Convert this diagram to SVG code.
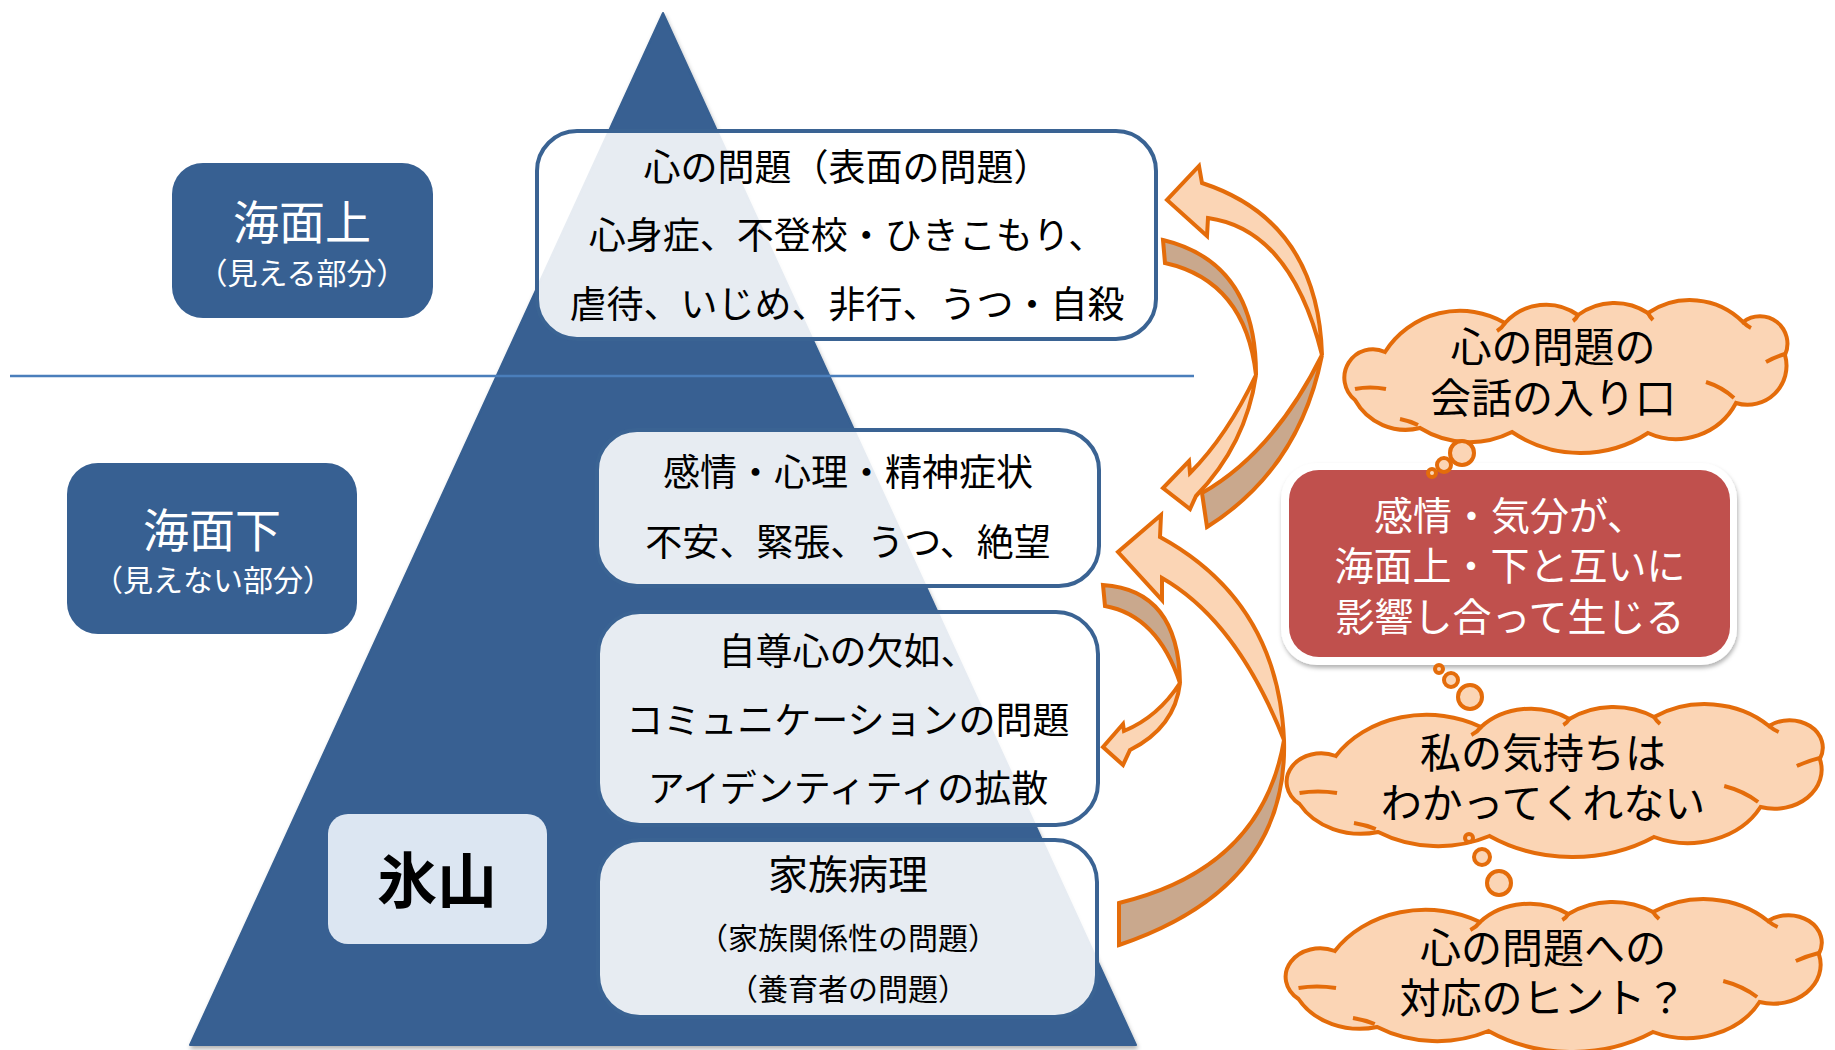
<svg xmlns="http://www.w3.org/2000/svg" width="1835" height="1050" viewBox="0 0 1835 1050">
<defs>
<style>
.jp{font-family:"Noto Sans CJK JP","Noto Sans CJK SC",sans-serif;text-anchor:middle}
.jt{font-family:"Liberation Sans","Noto Sans CJK JP","Noto Sans CJK SC",sans-serif;text-anchor:middle}
.box{fill:#fff;fill-opacity:0.88;stroke:#3A6393;stroke-width:4}
.bt{font-size:37px;fill:#000}
.st{font-size:30px;fill:#000}
.lbl{fill:#376092}
.lt{font-size:46px;fill:#fff}
.ls{font-size:30px;fill:#fff}
.ct{font-size:41px;fill:#000}
.rt{font-size:39px;fill:#fff}
.af{fill:#FBD5B5;stroke:#E46C0A;stroke-width:4;stroke-linejoin:miter}
.ab{fill:#C9A88D;stroke:#E46C0A;stroke-width:4;stroke-linejoin:miter}
.cloud{fill:#FBD5B5;stroke:#E46C0A;stroke-width:4}
.cin{fill:none;stroke:#E46C0A;stroke-width:4}
.bub{fill:#FBD5B5;stroke:#E46C0A;stroke-width:4}
</style>
<filter id="sh" x="-10%" y="-10%" width="125%" height="125%">
<feDropShadow dx="1" dy="3" stdDeviation="2" flood-color="#000" flood-opacity="0.3"/>
</filter>
<g id="cloudShape">
<path class="cloud" vector-effect="non-scaling-stroke" d="M1355,400 A28.5,28.5 0 0 1 1385,352 A89,89 0 0 1 1505,323 A55,55 0 0 1 1578,315 A61,61 0 0 1 1648,313 A75,75 0 0 1 1743,322 A27.5,27.5 0 0 1 1785,355 A39,39 0 0 1 1736,403 A68,68 0 0 1 1648,433 A123,123 0 0 1 1512,432 A94,94 0 0 1 1420,428 A58,58 0 0 1 1355,400 Z"/>
<path class="cin" vector-effect="non-scaling-stroke" d="M1355,389 Q1370,386 1386,389 M1400,419 Q1410,421 1418,425 M1706,382 Q1722,387 1734,398 M1766,362 Q1775,357 1785,354 M1505,323 q-3,5 -8,8 M1578,315 q-2,4 -5,6 M1648,313 q2,4 5,7 M1743,322 q4,4 8,6"/>
</g>
</defs>

<rect width="1835" height="1050" fill="#fff"/>

<g id="iceberg">
<polygon points="663,13 1136,1045 190,1045" fill="#376092" stroke="#376092" stroke-width="2" stroke-linejoin="round" filter="url(#sh)"/>
</g>

<line id="sea-line" x1="10" y1="376" x2="1194" y2="376" stroke="#4A7EBB" stroke-width="2.5"/>

<g id="label-above">
<rect class="lbl" x="172" y="163" width="261" height="155" rx="31"/>
<text class="jp lt" x="302" y="239">海面上</text>
<text class="jp ls" x="302" y="284">（見える部分）</text>
</g>

<g id="label-below">
<rect class="lbl" x="67" y="463" width="290" height="171" rx="31"/>
<text class="jp lt" x="212" y="547">海面下</text>
<text class="jp ls" x="213" y="591">（見えない部分）</text>
</g>

<g id="label-iceberg">
<rect x="328" y="814" width="219" height="130" rx="20" fill="#DCE6F2"/>
<text class="jp" x="437" y="903" font-size="60" font-weight="bold" fill="#000">氷山</text>
</g>

<g id="box-surface">
<rect class="box" x="537" y="131" width="619" height="208" rx="40"/>
<text class="jp bt" x="847" y="181">心の問題（表面の問題）</text>
<text class="jp bt" x="847" y="249">心身症、不登校・ひきこもり、</text>
<text class="jp bt" x="847" y="318">虐待、いじめ、非行、うつ・自殺</text>
</g>

<g id="box-emotion">
<rect class="box" x="597" y="430" width="502" height="156" rx="40"/>
<text class="jp bt" x="848" y="486">感情・心理・精神症状</text>
<text class="jp bt" x="848" y="556">不安、緊張、うつ、絶望</text>
</g>

<g id="box-self">
<rect class="box" x="598" y="612" width="500" height="213" rx="42"/>
<text class="jp bt" x="848" y="665">自尊心の欠如、</text>
<text class="jp bt" x="848" y="734">コミュニケーションの問題</text>
<text class="jp bt" x="848" y="802">アイデンティティの拡散</text>
</g>

<g id="box-family">
<rect class="box" x="598" y="840" width="499" height="177" rx="42"/>
<text class="jp" x="848" y="889" font-size="40" fill="#000">家族病理</text>
<text class="jt st" x="848" y="949">（家族関係性の問題）</text>
<text class="jt st" x="848" y="1000">（養育者の問題）</text>
</g>

<g id="connectors">
<g id="arrow-a">
<path class="ab" d="M1163,240 Q1256.5,262.5 1256,375 Q1245.5,281 1165,263 Z"/>
<path class="af" d="M1256,375 Q1246,444.5 1196,496 L1190,509 L1163,488 L1189,461 L1190,473 Q1227,436 1256,375 Z"/>
</g>
<g id="arrow-b">
<path class="af" d="M1202,183 Q1318,221 1322,355 Q1291,229.5 1208,218 L1207,236 L1167,200 L1199,166 Z"/>
<path class="ab" d="M1322,355 Q1299.5,469 1207,527 L1202,493 Q1274,452 1322,355 Z"/>
</g>
<g id="arrow-c">
<path class="ab" d="M1103,585 Q1178.5,590 1180,683 Q1157.5,615.5 1105,606 Z"/>
<path class="af" d="M1180,683 Q1175,727.5 1130,750 L1123,765 L1103,747 L1123,724 L1124,731 Q1158,717 1180,683 Z"/>
</g>
<g id="arrow-d">
<path class="af" d="M1160,537 Q1278,601.5 1284,740 Q1237,621 1162,578 L1162,600 L1118,552 L1161,515 Z"/>
<path class="ab" d="M1284,740 Q1288.5,887.5 1119,945 L1119,903 Q1262.5,868.5 1284,740 Z"/>
</g>
</g>

<g id="red-box">
<rect x="1281" y="463" width="456" height="202" rx="36" fill="#fff" filter="url(#sh)"/>
<rect x="1289" y="470" width="441" height="187" rx="30" fill="#C0504D"/>
<text class="jt rt" x="1510" y="530">感情・気分が、</text>
<text class="jt rt" x="1510" y="580">海面上・下と互いに</text>
<text class="jt rt" x="1510" y="631">影響し合って生じる</text>
</g>

<g id="cloud-entry">
<use href="#cloudShape"/>
<circle class="bub" cx="1462" cy="453" r="12"/>
<circle class="bub" cx="1444" cy="465" r="7"/>
<circle class="bub" cx="1432" cy="473" r="4"/>
<text class="jt ct" x="1553" y="362">心の問題の</text>
<text class="jt ct" x="1553" y="413">会話の入り口</text>
</g>

<g id="cloud-feeling">
<use href="#cloudShape" transform="translate(1285,704) scale(1.21,1) translate(-1343,-300)"/>
<circle class="bub" cx="1470" cy="697" r="12"/>
<circle class="bub" cx="1451" cy="680" r="7"/>
<circle class="bub" cx="1439" cy="669" r="4"/>
<text class="jt ct" x="1543" y="768">私の気持ちは</text>
<text class="jt ct" x="1543" y="818">わかってくれない</text>
</g>

<g id="cloud-hint">
<use href="#cloudShape" transform="translate(1284,899) scale(1.21,1) translate(-1343,-300)"/>
<circle class="bub" cx="1499" cy="883" r="12"/>
<circle class="bub" cx="1482" cy="857" r="8"/>
<circle class="bub" cx="1469" cy="838" r="4"/>
<text class="jt ct" x="1543" y="963">心の問題への</text>
<text class="jt ct" x="1543" y="1013">対応のヒント？</text>
</g>
</svg>
